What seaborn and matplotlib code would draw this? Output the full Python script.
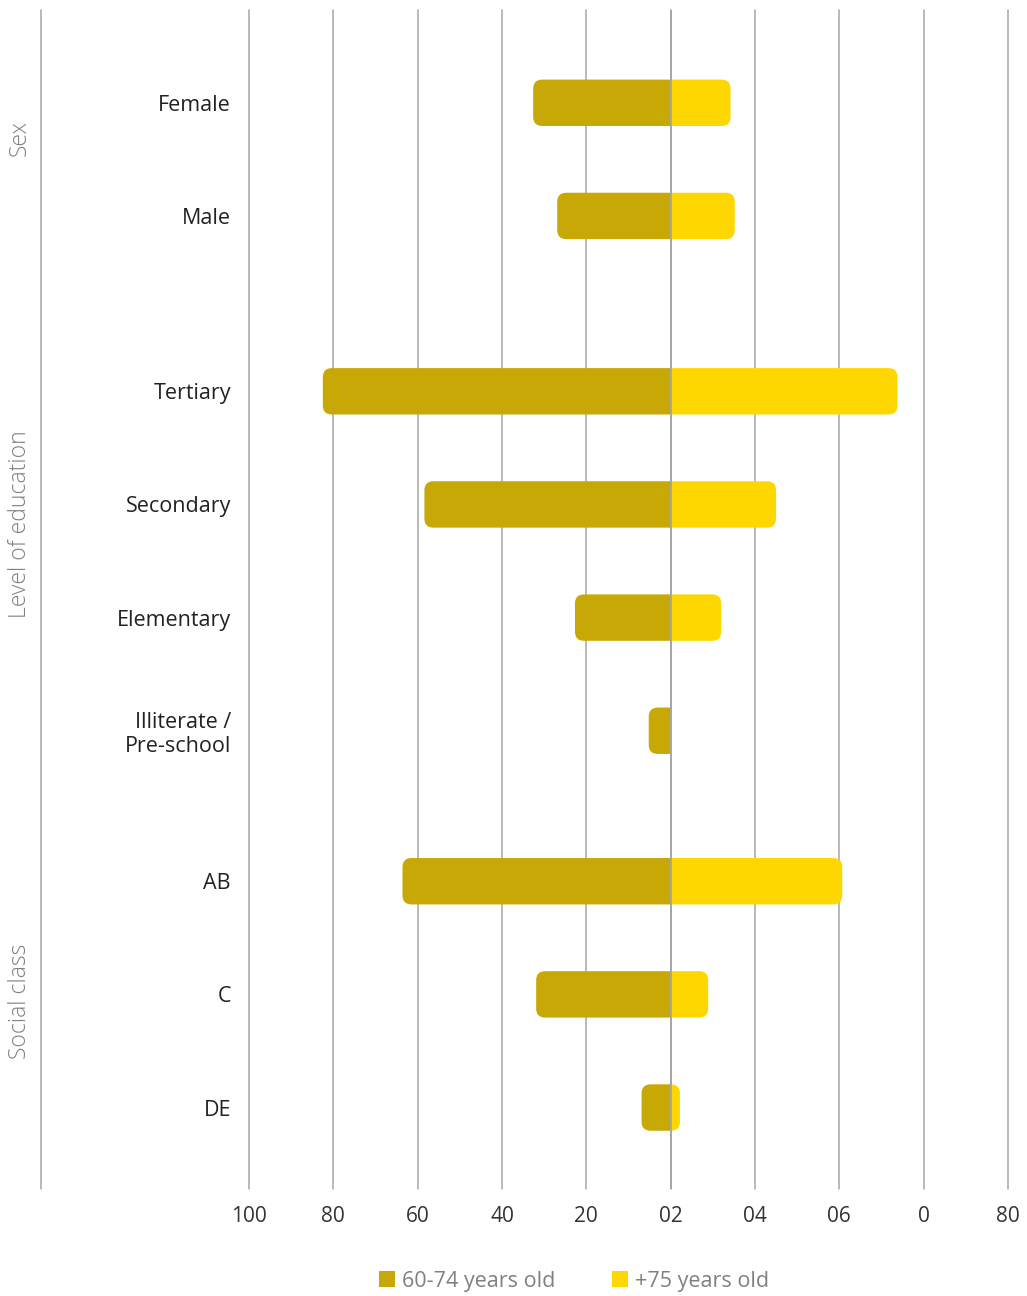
import matplotlib
matplotlib.use("Agg")
import numpy as np
import pandas as pd
import matplotlib.pyplot as plt
import seaborn as sns
from matplotlib import font_manager
from matplotlib.patches import FancyBboxPatch, Rectangle, Patch
from matplotlib.lines import Line2D
from matplotlib.transforms import blended_transform_factory

# data
categories = ["Female", "Male", "Tertiary", "Secondary", "Elementary",
              "Illiterate /\nPre-school", "AB", "C", "DE"]
cat_groups = ["Sex", "Sex", "Level of education", "Level of education", "Level of education",
              "Level of education", "Social class", "Social class", "Social class"]
age_60_74 = [32.6, 26.9, 82.5, 58.4, 22.7, 5.2, 63.6, 31.9, 6.9]
age_75_plus = [14.2, 15.2, 53.8, 25.0, 12.0, 0.0, 40.7, 8.9, 2.2]
series_names = ["60-74 years old", "+75 years old"]
group_names = ["Sex", "Level of education", "Social class"]
xtick_values = [-100, -80, -60, -40, -20, 0, 20, 40, 60, 80]
xtick_labels = ["100", "80", "60", "40", "20", "02", "04", "06", "0", "80"]

# layout
group_gap = [0.0, 0.55, 0.33]
group_label_shift = [-0.19, -0.33, 0.06]
colors = ["#C8A806", "#FFD700"]
grid_col = "#A6A6A6"

sns.set_style("white")
avail = {f.name for f in font_manager.fontManager.ttflist}
main_font = "Open Sans" if "Open Sans" in avail else "DejaVu Sans"
narrow_font = "Liberation Sans Narrow" if "Liberation Sans Narrow" in avail else main_font
plt.rcParams["font.family"] = [main_font, "DejaVu Sans"]

# y positions: one unit per category, plus extra space between groups
pos = []
offset = 0.0
prev = None
for i, g in enumerate(cat_groups):
    if g != prev and prev is not None:
        offset += group_gap[group_names.index(g)]
    pos.append(i + offset)
    prev = g
pos = np.array(pos)

df = pd.DataFrame({
    "pos": np.concatenate([pos, pos]),
    "value": np.concatenate([-np.array(age_60_74), np.array(age_75_plus)]),
    "series": [series_names[0]] * len(pos) + [series_names[1]] * len(pos),
})

fig = plt.figure(figsize=(10.27, 12.96), dpi=100)
ax = fig.add_axes([249 / 1027, 1 - 1189 / 1296, (1008 - 249) / 1027, (1189 - 10) / 1296])

sns.barplot(data=df, x="value", y="pos", hue="series", orient="h", native_scale=True,
            dodge=False, palette=colors, saturation=1, width=0.41, errorbar=None,
            legend=False, ax=ax)

ax.set_xlim(-100, 80)
ax.set_ylim(pos[-1] + 0.72, -0.82)
ax.set_xticks(xtick_values)
ax.set_xticklabels(xtick_labels, fontfamily=narrow_font, fontsize=15, color="#333333")
ax.set_yticks(pos)
ax.set_yticklabels(categories, fontsize=15.5, color="#222222", multialignment="right")
ax.tick_params(axis="both", length=0)
ax.tick_params(axis="y", pad=13)
ax.tick_params(axis="x", pad=12)
ax.set_xlabel("")
ax.set_ylabel("")
for s in ax.spines.values():
    s.set_visible(False)
ax.set_axisbelow(True)
ax.grid(axis="x", color=grid_col, linewidth=1.1)
ax.grid(axis="y", visible=False)
for gl in ax.get_xgridlines():
    gl.set_clip_on(False)
ax.axvline(0, color=grid_col, linewidth=1.3, zorder=5)

# rounded outer ends for the bars
fig.canvas.draw()
p0 = ax.transData.transform((0, 0))
p1 = ax.transData.transform((1, 1))
px_x = abs(p1[0] - p0[0])
px_y = abs(p1[1] - p0[1])
r = 9 / px_x
style = f"round,pad=0,rounding_size={r}"
for cont in ax.containers:
    for bar in cont:
        x0 = min(bar.get_x(), bar.get_x() + bar.get_width())
        x1 = max(bar.get_x(), bar.get_x() + bar.get_width())
        y, h = bar.get_y(), bar.get_height()
        fc = bar.get_facecolor()
        bar.set_visible(False)
        if x1 - x0 == 0:
            continue
        if x0 < 0:
            box = FancyBboxPatch((x0, y), -x0 + r, h, boxstyle=style,
                                 mutation_aspect=px_x / px_y, facecolor=fc, edgecolor="none", zorder=3)
            clip = Rectangle((-200, -10), 200, 40, transform=ax.transData)
        else:
            box = FancyBboxPatch((-r, y), x1 + r, h, boxstyle=style,
                                 mutation_aspect=px_x / px_y, facecolor=fc, edgecolor="none", zorder=3)
            clip = Rectangle((0, -10), 200, 40, transform=ax.transData)
        ax.add_patch(box)
        box.set_clip_path(clip)

# group labels and separator line
trans = blended_transform_factory(fig.transFigure, ax.transData)
for gi, g in enumerate(group_names):
    gp = pos[[k for k, c in enumerate(cat_groups) if c == g]]
    ax.text(20 / 1027, gp.mean() + group_label_shift[gi], g, transform=trans, rotation=90,
            ha="center", va="center", fontsize=16.5, color="#808080", fontweight="light",
            clip_on=False)
fig.add_artist(Line2D([41 / 1027, 41 / 1027], [1 - 1189 / 1296, 1 - 10 / 1296],
                      transform=fig.transFigure, color=grid_col, linewidth=1.1))

handles = [Patch(facecolor=c, edgecolor="none") for c in colors]
fig.legend(handles=handles, labels=series_names, loc="center",
           bbox_to_anchor=(574 / 1027, 1 - 1281 / 1296), ncol=2, frameon=False,
           handlelength=0.75, handleheight=0.75, handletextpad=0.35, columnspacing=2.6,
           prop={"family": narrow_font, "size": 15.5}, labelcolor="#808080")

fig.savefig("out.png", dpi=100)
